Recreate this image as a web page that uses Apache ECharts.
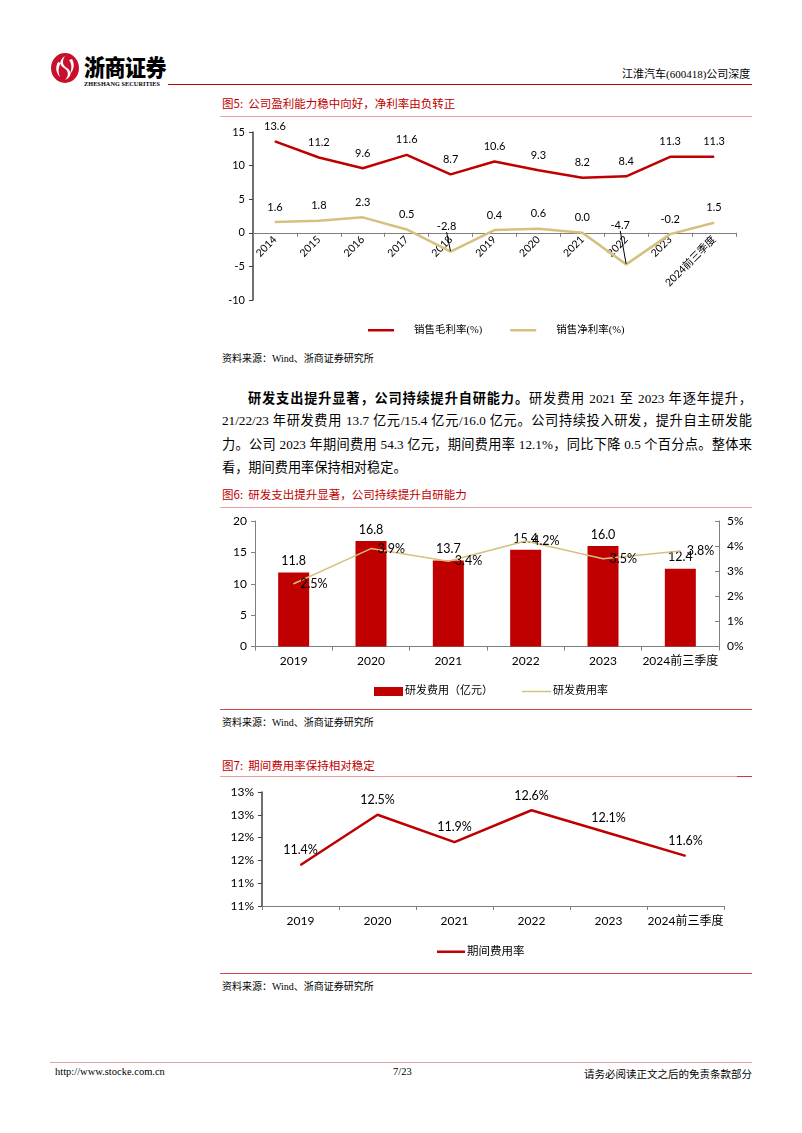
<!DOCTYPE html>
<html><head><meta charset="utf-8">
<script src="https://cdn.jsdelivr.net/npm/echarts@6/dist/echarts.min.js"></script>
<style>
body{margin:0;width:802px;height:1133px;background:#fff;position:relative;overflow:hidden;font-family:"Liberation Serif","Noto Sans CJK SC",serif;color:#000}
.abs{position:absolute;white-space:nowrap}
.hl{position:absolute;height:0}
.ftitle{position:absolute;left:222px;font-size:11.5px;color:#C00000;font-family:"Noto Sans CJK SC",sans-serif;white-space:nowrap}
.src{position:absolute;left:222px;font-size:10px;white-space:nowrap}
.para{position:absolute;left:222px;top:386px;width:530px;font-size:13.2px}
.para div{height:23.3px;line-height:23.3px;text-align:justify;text-align-last:justify}
.para div.last{text-align-last:left}
.chart{position:absolute;left:210px;width:560px}
</style></head>
<body>
<!-- header -->
<svg class="abs" style="left:50px;top:52px" width="30" height="32" viewBox="0 0 30 32">
  <ellipse cx="15" cy="16" rx="14" ry="15" fill="#C8102E"/>
  <path d="M15 4 C9 8 9 13 14 16 C19 19 19 24 15 28 C22 25 22 19 17 16 C12 13 12 9 15 4Z" fill="#fff"/>
  <path d="M8 10 C5 15 6 21 10 25 C8 20 8 15 11 11Z" fill="#fff"/>
  <path d="M22 7 C25 12 24 18 20 22 C22 17 22 12 19 8Z" fill="#fff"/>
</svg>
<div class="abs" style="left:84px;top:51px;font-size:21px;font-weight:900;font-family:'Noto Sans CJK SC',sans-serif;letter-spacing:-0.5px;line-height:28px;transform:scaleY(1.1);transform-origin:top left">浙商证券</div>
<div class="abs" style="left:84px;top:80px;font-size:6.2px;font-weight:bold;letter-spacing:0.1px">ZHESHANG SECURITIES</div>
<div class="hl" style="left:168px;top:84px;width:584px;border-top:1.5px solid #C00000"></div>
<div class="abs" style="left:622px;top:65px;font-size:11px">江淮汽车(600418)公司深度</div>

<!-- figure 5 -->
<div class="ftitle" style="top:95px">图5:&nbsp; 公司盈利能力稳中向好，净利率由负转正</div>
<div class="hl" style="left:220px;top:116px;width:532px;border-top:1px solid #E8A0A0"></div>
<div id="c1" class="chart" style="top:118px;height:222px"></div>
<div class="src" style="top:350px">资料来源：Wind、浙商证券研究所</div>

<!-- paragraph -->
<div class="para">
<div style="padding-left:26px"><b style="font-family:'Noto Sans CJK SC',sans-serif">研发支出提升显著，公司持续提升自研能力。</b>研发费用 2021 至 2023 年逐年提升，</div>
<div>21/22/23 年研发费用 13.7 亿元/15.4 亿元/16.0 亿元。公司持续投入研发，提升自主研发能</div>
<div>力。公司 2023 年期间费用 54.3 亿元，期间费用率 12.1%，同比下降 0.5 个百分点。整体来</div>
<div class="last">看，期间费用率保持相对稳定。</div>
</div>

<!-- figure 6 -->
<div class="ftitle" style="top:486px">图6:&nbsp; 研发支出提升显著，公司持续提升自研能力</div>
<div class="hl" style="left:220px;top:507px;width:532px;border-top:1px solid #E8A0A0"></div>
<div id="c2" class="chart" style="top:510px;height:200px"></div>
<div class="hl" style="left:220px;top:709px;width:532px;border-top:1.5px solid #D04848"></div>
<div class="src" style="top:714px">资料来源：Wind、浙商证券研究所</div>

<!-- figure 7 -->
<div class="ftitle" style="top:757px">图7:&nbsp; 期间费用率保持相对稳定</div>
<div class="hl" style="left:220px;top:776px;width:532px;border-top:1px solid #E8A0A0"></div>
<div class="hl" style="left:737px;top:776px;width:15px;border-top:1.5px solid #C04040"></div>
<div id="c3" class="chart" style="top:780px;height:190px"></div>
<div class="hl" style="left:220px;top:973px;width:532px;border-top:1.5px solid #D04848"></div>
<div class="src" style="top:978px">资料来源：Wind、浙商证券研究所</div>

<!-- footer -->
<div class="hl" style="left:50px;top:1062px;width:702px;border-top:1.5px solid #E3A3A8"></div>
<div class="abs" style="left:55px;top:1066px;font-size:10.5px">http://www.stocke.com.cn</div>
<div class="abs" style="left:393px;top:1066px;font-size:10.5px">7/23</div>
<div class="abs" style="left:572px;top:1066px;font-size:10.5px;width:180px;text-align:right">请务必阅读正文之后的免责条款部分</div>

<script>
// ---- Figure 5 data ----
const years1 = ['2014','2015','2016','2017','2018','2019','2020','2021','2022','2023','2024前三季度'];
const grossMargin = [13.6, 11.2, 9.6, 11.6, 8.7, 10.6, 9.3, 8.2, 8.4, 11.3, 11.3];
const netMargin = [1.6, 1.8, 2.3, 0.5, -2.8, 0.4, 0.6, 0.0, -4.7, -0.2, 1.5];
const yTicks1 = [-10, -5, 0, 5, 10, 15];
const netLeaderIdx = [4, 8];   // labels pulled up with a guide line

// ---- Figure 6 data ----
const years2 = ['2019','2020','2021','2022','2023','2024前三季度'];
const rdExpense = [11.8, 16.8, 13.7, 15.4, 16.0, 12.4];
const rdRate = [2.5, 3.9, 3.4, 4.2, 3.5, 3.8];
const yTicks2L = [0, 5, 10, 15, 20];
const yTicks2R = [0, 1, 2, 3, 4, 5];

// ---- Figure 7 data ----
const years3 = ['2019','2020','2021','2022','2023','2024前三季度'];
const periodRate = [11.4, 12.5, 11.9, 12.6, 12.1, 11.6];
const yTicks3 = [10.5, 11, 11.5, 12, 12.5, 13];

const NUM = 'Lato, "Noto Sans CJK SC", sans-serif';
const SERIF = '"Liberation Serif", "Noto Sans CJK SC", serif';
const RED = '#C00000';
const GOLD = '#D6C07E';
const AXIS = '#7F7F7F';

// Chart 1
const netData = netMargin.map((v, i) => netLeaderIdx.includes(i)
  ? {value: v, labelLine: {show: true, lineStyle: {color: '#000', width: 1}}}
  : {value: v});
const c1 = echarts.init(document.getElementById('c1'));
c1.setOption({
  animation:false,
  grid:{left:43, right:34, top:14, bottom:40, outerBoundsMode:'none', containLabel:false},
  legend:{
    left:153, top:202, itemGap:28, itemWidth:26, itemHeight:2.5, icon:'rect',
    textStyle:{fontFamily:SERIF, fontSize:10.5, color:'#000', padding:[0,0,0,15]},
    data:['销售毛利率(%)','销售净利率(%)']
  },
  xAxis:{
    type:'category', data:years1, boundaryGap:true, offset:0,
    axisLine:{onZero:false, lineStyle:{color:AXIS, width:1}},
    axisTick:{show:true, length:4, lineStyle:{color:AXIS}},
    axisLabel:{rotate:45, interval:0, fontSize:10.5, color:'#000', fontFamily:NUM, margin:5}
  },
  yAxis:{
    type:'value', min:yTicks1[0], max:yTicks1[yTicks1.length-1], interval:5,
    axisLine:{show:true, lineStyle:{color:'#404040', width:1.5}},
    axisTick:{show:true, length:4, lineStyle:{color:'#404040'}},
    splitLine:{show:false},
    axisLabel:{fontSize:11, color:'#000', fontFamily:NUM, margin:8}
  },
  series:[
    {name:'销售毛利率(%)', type:'line', data:grossMargin, color:RED,
     symbol:'circle', symbolSize:1, lineStyle:{width:2.5, color:RED},
     label:{show:true, position:'top', distance:9, fontSize:11, color:'#000', fontFamily:NUM,
            formatter:p=>p.value.toFixed(1)}},
    {name:'销售净利率(%)', type:'line', data:netData, color:GOLD,
     symbol:'circle', symbolSize:1, lineStyle:{width:2.5, color:GOLD},
     label:{show:true, position:'top', distance:9, fontSize:11, color:'#000', fontFamily:NUM,
            formatter:p=>p.value.toFixed(1)},
     labelLayout:function(p){
       if(p.dataIndex===4) return {dy:-10, dx:-4};
       if(p.dataIndex===8) return {dy:-24, dx:-6};
       return {};
     }}
  ]
});
// move the category axis (line, ticks, labels) up to the zero value, using the value scale
const yZero = c1.convertToPixel({yAxisIndex:0}, 0);
const yMinPx = c1.convertToPixel({yAxisIndex:0}, yTicks1[0]);
c1.setOption({xAxis:{offset: yZero - yMinPx}});

// Chart 2
const c2 = echarts.init(document.getElementById('c2'));
const legText2 = {fontFamily:SERIF, fontSize:11, color:'#000', padding:[0,0,0,-3], lineHeight:13};
c2.setOption({
  animation:false,
  grid:{left:45, right:51, top:11, bottom:63.5, outerBoundsMode:'none', containLabel:false},
  legend:[
    {left:159, top:170, itemWidth:29, itemHeight:9, icon:'rect', textStyle:legText2,
     data:['研发费用（亿元）']},
    {left:307, top:170, itemWidth:29, itemHeight:1.5, icon:'rect', textStyle:legText2,
     data:['研发费用率']}
  ],
  xAxis:{
    type:'category', data:years2,
    axisLine:{lineStyle:{color:AXIS}},
    axisTick:{show:true, length:4, lineStyle:{color:AXIS}},
    axisLabel:{interval:0, fontSize:12, color:'#000', fontFamily:NUM, margin:9}
  },
  yAxis:[
    {type:'value', min:yTicks2L[0], max:yTicks2L[yTicks2L.length-1], interval:5,
     axisLine:{show:true, lineStyle:{color:AXIS}}, axisTick:{show:true, length:4, lineStyle:{color:AXIS}},
     splitLine:{show:false}, axisLabel:{fontSize:12, color:'#000', fontFamily:NUM, margin:8}},
    {type:'value', min:yTicks2R[0], max:yTicks2R[yTicks2R.length-1], interval:1, position:'right',
     axisLine:{show:true, lineStyle:{color:AXIS}}, axisTick:{show:true, inside:true, length:4, lineStyle:{color:AXIS}},
     splitLine:{show:false}, axisLabel:{fontSize:12, color:'#000', fontFamily:NUM, margin:8, formatter:'{value}%'}}
  ],
  series:[
    {name:'研发费用（亿元）', type:'bar', data:rdExpense, barWidth:31, color:RED,
     itemStyle:{color:RED},
     label:{show:true, position:'top', distance:5, fontSize:12.5, color:'#000', fontFamily:NUM,
            formatter:p=>p.value.toFixed(1)}},
    {name:'研发费用率', type:'line', data:rdRate, yAxisIndex:1, color:GOLD,
     symbol:'circle', symbolSize:1, lineStyle:{width:1.5, color:GOLD},
     label:{show:true, position:'right', distance:6, fontSize:12.5, color:'#000', fontFamily:NUM,
            formatter:p=>p.value.toFixed(1)+'%'}}
  ]
});

// Chart 3
const c3 = echarts.init(document.getElementById('c3'));
c3.setOption({
  animation:false,
  grid:{left:52, right:46, top:12, bottom:64, outerBoundsMode:'none', containLabel:false},
  legend:{
    left:222, top:161, itemWidth:28, itemHeight:2.5, icon:'rect',
    textStyle:{fontFamily:SERIF, fontSize:11.5, color:'#000', padding:[0,0,0,-3]},
    data:['期间费用率']
  },
  xAxis:{
    type:'category', data:years3,
    axisLine:{lineStyle:{color:AXIS}},
    axisTick:{show:true, length:4, lineStyle:{color:AXIS}},
    axisLabel:{interval:0, fontSize:12, color:'#000', fontFamily:NUM, margin:9}
  },
  yAxis:{
    type:'value', min:yTicks3[0], max:yTicks3[yTicks3.length-1], interval:0.5,
    axisLine:{show:true, lineStyle:{color:'#404040', width:1.5}},
    axisTick:{show:true, length:4, lineStyle:{color:'#404040'}},
    splitLine:{show:false},
    axisLabel:{fontSize:12, color:'#000', fontFamily:NUM, margin:8, formatter:v=>Math.round(v)+'%'}
  },
  series:[
    {name:'期间费用率', type:'line', data:periodRate, color:RED,
     symbol:'circle', symbolSize:1, lineStyle:{width:2.5, color:RED},
     label:{show:true, position:'top', distance:8, fontSize:12.5, color:'#000', fontFamily:NUM,
            formatter:p=>p.value.toFixed(1)+'%'}}
  ]
});
</script>
</body></html>
